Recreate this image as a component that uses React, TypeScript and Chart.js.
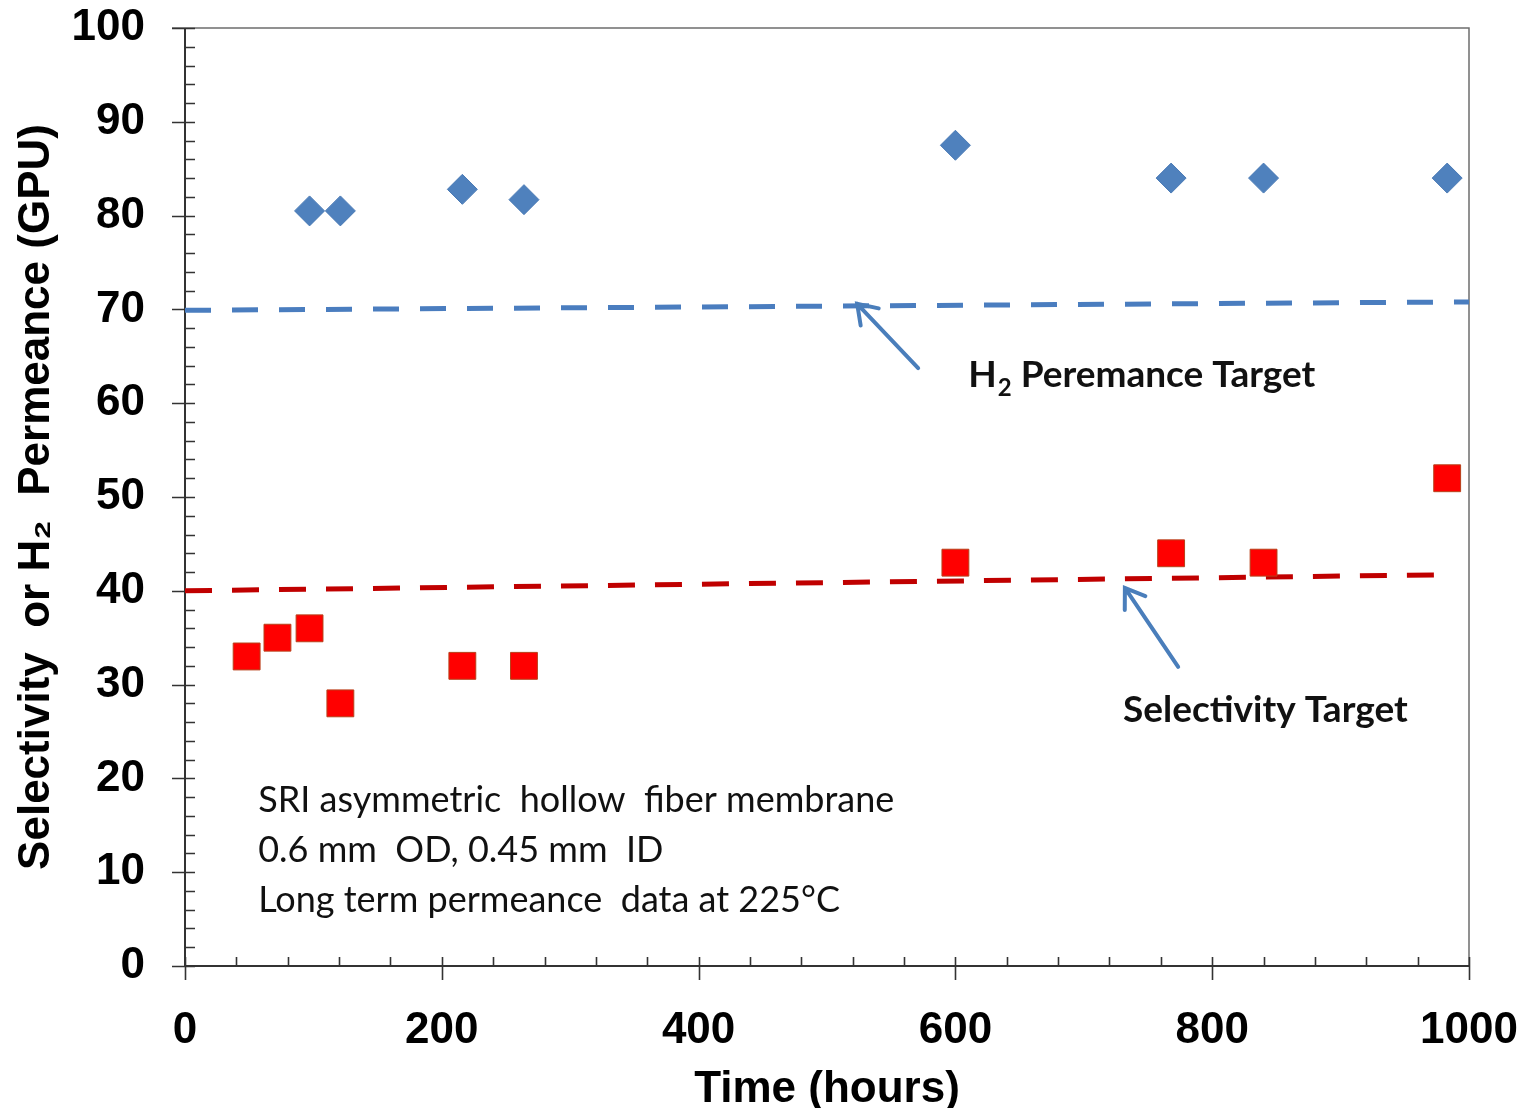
import React, { useEffect, useRef } from "react";
import { Chart, registerables } from "chart.js";

Chart.register(...registerables);

// ---- data ----
const selHours = [48, 72, 97, 121, 216, 264, 600, 768, 840, 983];
const selValues = [33, 35, 36, 28, 32, 32, 43, 44, 43, 52];
const permHours = [97, 121, 216, 264, 600, 768, 840, 983];
const permValues = [80.5, 80.5, 82.8, 81.7, 87.5, 84, 84, 84];
const permTargetHours = [0, 1000];
const permTargetValues = [69.9, 70.8];
const selTargetHours = [0, 975];
const selTargetValues = [40.0, 41.7];
const xTickValues = [0, 200, 400, 600, 800, 1000];
const yTickValues = [0, 10, 20, 30, 40, 50, 60, 70, 80, 90, 100];
const noteLines = [
  "SRI asymmetric  hollow  fiber membrane",
  "0.6 mm  OD, 0.45 mm  ID",
  "Long term permeance  data at 225°C",
];

const BOLD = "'Liberation Sans', Arial, sans-serif";
const NOTE = "Lato, 'Noto Sans', sans-serif";

const axisPlugin = {
  id: "axisFrame",
  beforeDatasetsDraw(chart: any) {
    const { ctx, chartArea: a, scales } = chart;
    const x = scales.x, y = scales.y;
    ctx.save();
    // frame (top & right)
    ctx.strokeStyle = "#6e6e6e";
    ctx.lineWidth = 1.5;
    ctx.beginPath();
    ctx.moveTo(a.left - 13, a.top);
    ctx.lineTo(a.right, a.top);
    ctx.lineTo(a.right, a.bottom);
    ctx.stroke();
    // axes
    ctx.strokeStyle = "#333";
    ctx.lineWidth = 2;
    ctx.beginPath();
    ctx.moveTo(a.left, a.top);
    ctx.lineTo(a.left, a.bottom);
    ctx.lineTo(a.right, a.bottom);
    ctx.stroke();
    ctx.lineWidth = 1.6;
    ctx.beginPath();
    for (let v = 0; v <= 100; v += 2) {
      const py = Math.round(y.getPixelForValue(v)) + 0.5;
      if (v % 10 === 0) {
        ctx.moveTo(a.left - 13, py);
        ctx.lineTo(a.left + 10, py);
      } else {
        ctx.moveTo(a.left, py);
        ctx.lineTo(a.left + 10, py);
      }
    }
    for (let v = 0; v <= 1000; v += 40) {
      const px = Math.round(x.getPixelForValue(v)) + 0.5;
      if (v % 200 === 0) {
        ctx.moveTo(px, a.bottom - 9);
        ctx.lineTo(px, a.bottom + 14);
      } else {
        ctx.moveTo(px, a.bottom - 9);
        ctx.lineTo(px, a.bottom);
      }
    }
    ctx.stroke();
    ctx.restore();
  },
  afterDatasetsDraw(chart: any) {
    const { ctx, scales } = chart;
    const x = scales.x, y = scales.y;
    const P = (hx: number, vy: number) => [x.getPixelForValue(hx), y.getPixelForValue(vy)];
    ctx.save();
    // arrows
    const arrow = (t: number[], h: number[]) => {
      const [x1, y1] = P(t[0], t[1]);
      const [x2, y2] = P(h[0], h[1]);
      const ang = Math.atan2(y2 - y1, x2 - x1);
      ctx.strokeStyle = "#4a7ebb";
      ctx.lineWidth = 4;
      ctx.lineCap = "round";
      ctx.beginPath();
      ctx.moveTo(x1, y1);
      ctx.lineTo(x2, y2);
      const L = 22, s = 0.6;
      ctx.moveTo(x2 - L * Math.cos(ang - s), y2 - L * Math.sin(ang - s));
      ctx.lineTo(x2, y2);
      ctx.lineTo(x2 - L * Math.cos(ang + s), y2 - L * Math.sin(ang + s));
      ctx.stroke();
    };
    arrow([571, 63.75], [523.5, 70.6]);
    arrow([773.5, 31.9], [732, 40.3]);

    ctx.fillStyle = "#111";
    ctx.textBaseline = "alphabetic";
    ctx.textAlign = "left";
    // H2 Peremance Target
    {
      const [px, py] = P(610, 61.7);
      ctx.font = `bold 37px ${NOTE}`;
      ctx.fillText("H", px, py);
      let w = ctx.measureText("H").width;
      ctx.font = `bold 24px ${NOTE}`;
      ctx.fillText("2", px + w + 1, py + 9);
      w += ctx.measureText("2").width + 1;
      ctx.font = `bold 37px ${NOTE}`;
      ctx.fillText(" Peremance Target", px + w, py);
    }
    {
      const [px, py] = P(730.5, 26.0);
      ctx.font = `bold 37px ${NOTE}`;
      ctx.fillText("Selectivity Target", px, py);
    }
    {
      ctx.font = `36px ${NOTE}`;
      const baselines = [16.4, 11.1, 5.8];
      noteLines.forEach((t, i) => {
        const [px, py] = P(57, baselines[i]);
        ctx.fillText(t, px, py);
      });
    }
    ctx.restore();
  },
};

export default function App() {
  const ref = useRef<HTMLCanvasElement>(null);
  useEffect(() => {
    if (!ref.current) return;
    const pts = (xs: number[], ys: number[]) => xs.map((v, i) => ({ x: v, y: ys[i] }));
    const hiddenTicks = {
      display: true,
      drawOnChartArea: false,
      drawTicks: true,
      color: "rgba(0,0,0,0)",
      tickColor: "rgba(0,0,0,0)",
    };
    const chart = new Chart(ref.current, {
      type: "scatter",
      data: {
        datasets: [
          {
            label: "H2 Permeance Target",
            data: pts(permTargetHours, permTargetValues),
            showLine: true,
            borderColor: "#4a7dbf",
            borderWidth: 5,
            borderDash: [26, 21],
            pointRadius: 0,
            order: 4,
          },
          {
            label: "Selectivity Target",
            data: pts(selTargetHours, selTargetValues),
            showLine: true,
            borderColor: "#c00000",
            borderWidth: 5,
            borderDash: [27, 20],
            pointRadius: 0,
            order: 3,
          },
          {
            label: "Selectivity",
            data: pts(selHours, selValues),
            pointStyle: "rect",
            pointRadius: 19,
            backgroundColor: "#ff0000",
            borderColor: "#b8401a",
            borderWidth: 1,
            order: 2,
          },
          {
            label: "H2 Permeance",
            data: pts(permHours, permValues),
            pointStyle: "rectRot",
            pointRadius: 15,
            backgroundColor: "#4f81bd",
            borderColor: "#4a7ab5",
            borderWidth: 1,
            order: 1,
          },
        ] as any,
      },
      options: {
        animation: false,
        responsive: false,
        maintainAspectRatio: false,
        events: [],
        layout: { padding: { top: 20, right: 49, left: 0, bottom: 0 } },
        plugins: { legend: { display: false }, tooltip: { enabled: false } },
        scales: {
          x: {
            type: "linear",
            min: 0,
            max: 1000,
            afterBuildTicks: (s: any) => {
              s.ticks = xTickValues.map((v) => ({ value: v }));
            },
            grid: { ...hiddenTicks, tickLength: 38 },
            border: { display: false },
            ticks: {
              color: "#000",
              padding: 0,
              maxRotation: 0,
              autoSkip: false,
              callback: (v: any) => String(v),
              font: { family: BOLD, weight: "bold", size: 44 },
            },
            title: {
              display: true,
              text: "Time (hours)",
              color: "#000",
              font: { family: BOLD, weight: "bold", size: 44, lineHeight: 1 },
              padding: { top: 0, bottom: -4 },
            },
            afterFit: (s: any) => {
              s.height = 142;
            },
          },
          y: {
            type: "linear",
            min: 0,
            max: 100,
            afterBuildTicks: (s: any) => {
              s.ticks = yTickValues.map((v) => ({ value: v }));
            },
            grid: { ...hiddenTicks, tickLength: 40 },
            border: { display: false },
            ticks: {
              color: "#000",
              padding: 0,
              autoSkip: false,
              callback: (v: any) => String(v),
              font: { family: BOLD, weight: "bold", size: 44, lineHeight: 0.8 },
            },
            title: {
              display: true,
              text: "Selectivity  or H₂  Permeance (GPU)",
              color: "#000",
              font: { family: BOLD, weight: "bold", size: 44, lineHeight: 1 },
              padding: { top: 7, bottom: 0 },
            },
            afterFit: (s: any) => {
              s.width = 177;
            },
          },
        },
      } as any,
      plugins: [axisPlugin],
    });
    return () => chart.destroy();
  }, []);
  return (
    <div style={{ width: 1510, height: 1100 }}>
      <canvas ref={ref} width={1510} height={1100} style={{ display: "block", width: 1510, height: 1100 }} />
    </div>
  );
}
